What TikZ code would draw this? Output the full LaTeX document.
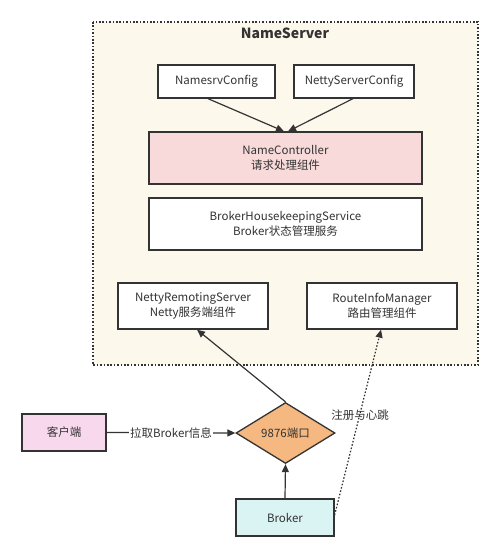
\documentclass[tikz,border=0pt]{standalone}
\usepackage{fontspec}
\setmainfont{Noto Sans CJK SC}
\usetikzlibrary{arrows.meta,shapes.geometric,calc}
\definecolor{txt}{HTML}{333333}
\definecolor{edge}{HTML}{333333}
\definecolor{cream}{HTML}{FCF8EC}
\definecolor{ncpink}{HTML}{F9DADA}
\definecolor{clpink}{HTML}{F8D8EC}
\definecolor{brcyan}{HTML}{DAF4F4}
\definecolor{orange}{HTML}{F4B880}
\tikzset{
  box/.style={draw=edge, line width=1.3pt, fill=white, text=txt, inner sep=0pt, align=center,
    font=\fontsize{11.5}{14.5}\selectfont},
  arr/.style={draw=edge, line width=1.2pt, -{Triangle[width=7pt,length=8pt]}},
  darr/.style={draw=edge, line width=1.2pt, dash pattern=on 1.6pt off 1.8pt, -{Triangle[width=7pt,length=8pt]}},
  lbl/.style={text=txt, font=\fontsize{11.5}{14.5}\selectfont, inner sep=1pt},
}
\begin{document}
\begin{tikzpicture}[x=1pt,y=-1pt]
\useasboundingbox (0,0) rectangle (500,558);
\fill[white] (0,0) rectangle (500,558);
\draw[draw=edge, line width=1.3pt, fill=cream, dash pattern=on 1.6pt off 1.8pt] (93,22) rectangle (478,365);
\node[text=txt, font=\bfseries\fontsize{14}{16}\selectfont] (title) at (285,33) {NameServer};

\node[box, minimum width=117pt, minimum height=33pt] (ns) at (216.5,81.5) {NamesrvConfig};
\node[box, minimum width=120pt, minimum height=33pt] (nsc) at (354,81.5) {NettyServerConfig};
\node[box, fill=ncpink, minimum width=273pt, minimum height=52pt] (nc) at (285.5,158) {NameController\\请求处理组件};
\node[box, minimum width=273pt, minimum height=52pt] (bhs) at (285.5,224) {BrokerHousekeepingService\\Broker状态管理服务};
\node[box, minimum width=150pt, minimum height=46pt] (nrs) at (193,306) {NettyRemotingServer\\Netty服务端组件};
\node[box, minimum width=150pt, minimum height=46pt] (rim) at (382,306) {RouteInfoManager\\路由管理组件};

\node[box, shape=diamond, fill=orange, aspect=1.62, minimum width=99pt, minimum height=61pt] (dia) at (285.5,433) {9876端口};
\node[box, fill=clpink, minimum width=84pt, minimum height=37pt] (cl) at (64,432.5) {客户端};
\node[box, fill=brcyan, minimum width=98pt, minimum height=37pt] (br) at (285,517.5) {Broker};

\draw[arr] ([xshift=-8.5pt]ns.south) -- ([xshift=-1.5pt]nc.north);
\draw[arr] ([xshift=-1pt]nsc.south) -- ([xshift=2.5pt]nc.north);
\draw[arr] (dia.north) -- ([xshift=4pt]nrs.south);
\draw[arr] (br.north) -- (dia.south);
\draw[arr] (cl.east) -- node[lbl, fill=white] (lb1) {拉取Broker信息} (dia.west);
\draw[darr] ([yshift=2.5pt]br.east) -- ([xshift=-1pt]rim.south);
\node[lbl] (lb2) at (360,415) {注册与心跳};
\end{tikzpicture}
\end{document}
